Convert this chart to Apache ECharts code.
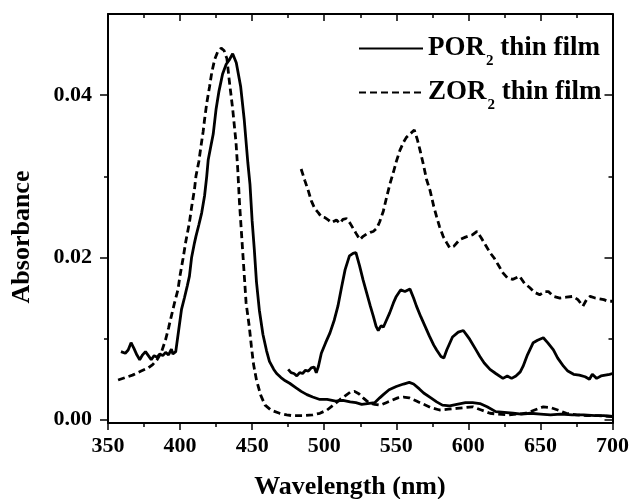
<!DOCTYPE html>
<html>
<head>
<meta charset="utf-8">
<script src="https://cdn.jsdelivr.net/npm/echarts@6/dist/echarts.min.js"></script>
<style>
  html, body { margin: 0; padding: 0; background: #fff; }
  #chart { width: 632px; height: 499px; }
</style>
</head>
<body>
<div id="chart"></div>
<script>
// 波长 (nm) 与吸光度
const porMain = [
  [359, 0.0084], [362, 0.0082], [364, 0.0086], [366, 0.0095], [368, 0.0088], [370, 0.0080],
  [372, 0.0074], [374, 0.0080], [376, 0.0084], [378, 0.0079], [380, 0.0074], [382, 0.0079],
  [384, 0.0077], [386, 0.0081], [388, 0.0079], [390, 0.0083], [392, 0.0080], [394, 0.0087],
  [395, 0.0081], [397, 0.0084], [399, 0.0110], [401, 0.0136], [403, 0.0150], [405, 0.0165],
  [406.5, 0.0177], [408, 0.0200], [410, 0.0218], [411, 0.0226], [413, 0.0240], [415, 0.0255],
  [417, 0.0276], [418.5, 0.0300], [419.5, 0.0320], [421, 0.0334], [423, 0.0352], [425, 0.0383],
  [427, 0.0405], [429.5, 0.0426], [432, 0.0438], [434, 0.0443], [436.5, 0.0451], [439, 0.0440],
  [442, 0.0411], [444.5, 0.0370], [447, 0.0317], [448.5, 0.0290], [450, 0.0245], [451.5, 0.0210],
  [453, 0.0170], [455, 0.0135], [457.5, 0.0105], [460, 0.0085], [462, 0.0072], [465, 0.0062],
  [467, 0.0057], [470, 0.0052], [473, 0.0048], [476, 0.0045], [480, 0.0040], [484, 0.0035],
  [488, 0.0031], [492, 0.0028], [497, 0.0025], [502, 0.0025], [508, 0.0023], [513, 0.0024],
  [518, 0.0022], [522, 0.0021], [526, 0.0019], [530, 0.0020], [535, 0.0021], [538.5, 0.0027],
  [541, 0.0031], [545, 0.0037], [550, 0.0041], [555, 0.0044], [559, 0.0046], [562, 0.0044],
  [566, 0.0038], [569, 0.0033], [574, 0.0027], [578, 0.0022], [582, 0.0018], [587, 0.0017],
  [592, 0.0019], [598, 0.0021], [603, 0.0021], [608, 0.0020], [613, 0.0016], [619, 0.0010],
  [625, 0.0009], [631, 0.0008], [637, 0.0007], [643, 0.0008], [650, 0.0007], [657, 0.0006],
  [664, 0.0007], [672, 0.0006], [680, 0.0006], [688, 0.0005], [694, 0.0005], [700, 0.0004]
];
const porQ = [
  [475, 0.0062], [477, 0.0058], [479, 0.0057], [481, 0.0054], [483, 0.0058], [485, 0.0057],
  [487, 0.0061], [489, 0.0060], [491, 0.0064], [493, 0.0065], [494.5, 0.0058], [496, 0.0066],
  [498, 0.0082], [501, 0.0095], [504, 0.0107], [507, 0.0123], [509.5, 0.0140], [512, 0.0163],
  [514.5, 0.0185], [517.5, 0.0202], [520, 0.0205], [522, 0.0206], [524.5, 0.0190], [527, 0.0172],
  [529.5, 0.0156], [532, 0.0140], [534, 0.0128], [536, 0.0115], [537.5, 0.0110], [539.5, 0.0116],
  [541, 0.0114], [543, 0.0122], [545.5, 0.0132], [548, 0.0144], [550, 0.0152], [553, 0.0160],
  [556, 0.0158], [559.5, 0.0161], [562, 0.0150], [564, 0.0140], [567, 0.0127], [570, 0.0115],
  [573, 0.0103], [576, 0.0092], [578, 0.0086], [581, 0.0078], [583, 0.0076], [585, 0.0086],
  [589, 0.0102], [593, 0.0108], [596.5, 0.0110], [599, 0.0104], [601, 0.0099], [605, 0.0087],
  [608, 0.0078], [611, 0.0070], [615, 0.0062], [619, 0.0057], [624, 0.0051], [627, 0.0054],
  [630, 0.0051], [633, 0.0054], [636, 0.0059], [638, 0.0066], [641, 0.0080], [645, 0.0095],
  [648, 0.0098], [652, 0.0101], [655, 0.0095], [659, 0.0086], [662, 0.0076], [666, 0.0066],
  [669, 0.0060], [673, 0.0056], [677, 0.0055], [681, 0.0053], [684, 0.0050], [686, 0.0056],
  [689, 0.0051], [692, 0.0054], [695, 0.0055], [698, 0.0056], [700, 0.0057]
];
const zorMain = [
  [357, 0.0049], [362, 0.0052], [367, 0.0055], [373, 0.0060], [378, 0.0064], [381, 0.0068],
  [384, 0.0074], [387, 0.0083], [390, 0.0099], [392, 0.0113], [394, 0.0128], [396, 0.0143],
  [398.5, 0.0160], [400, 0.0178], [402, 0.0198], [404, 0.0220], [406.5, 0.0243], [408, 0.0262],
  [410, 0.0284], [411, 0.0300], [413, 0.0318], [414.5, 0.0337], [416, 0.0355], [417, 0.0370],
  [418.5, 0.0390], [420.5, 0.0411], [422, 0.0428], [424, 0.0444], [426, 0.0453], [428.5, 0.0458],
  [430.5, 0.0455], [432.5, 0.0445], [434, 0.0420], [436.5, 0.0383], [438.8, 0.0342], [440, 0.0309],
  [441.2, 0.0268], [443.5, 0.0206], [445.8, 0.0144], [448, 0.0115], [449.5, 0.0090], [451, 0.0068],
  [453, 0.0049], [456, 0.0030], [459, 0.0018], [463, 0.0012], [469, 0.0008], [474, 0.0006],
  [478, 0.0005], [485, 0.0005], [492, 0.0006], [497, 0.0008], [502, 0.0012], [507, 0.0019],
  [511, 0.0025], [515, 0.0030], [518, 0.0034], [521, 0.0035], [524, 0.0032], [527, 0.0027],
  [531, 0.0021], [535, 0.0019], [539, 0.0018], [543, 0.0021], [547, 0.0024], [551, 0.0027],
  [555, 0.0028], [559, 0.0027], [564, 0.0023], [569, 0.0019], [574, 0.0015], [580, 0.0012],
  [586, 0.0013], [592, 0.0014], [598, 0.0015], [603, 0.0016], [609, 0.0012], [615, 0.0008],
  [620, 0.0007], [627, 0.0006], [634, 0.0007], [640, 0.0008], [646, 0.0012], [652, 0.0016],
  [657, 0.0015], [662, 0.0012], [668, 0.0008], [675, 0.0006], [682, 0.0005], [690, 0.0005],
  [700, 0.0004]
];
const zorQ = [
  [484, 0.0309], [486.5, 0.0295], [489, 0.0282], [491, 0.0270], [493.5, 0.0260], [496, 0.0255],
  [498, 0.0250], [500.5, 0.0249], [503, 0.0246], [505, 0.0243], [508.5, 0.0246], [511, 0.0242],
  [513, 0.0247], [515.5, 0.0248], [518, 0.0242], [520, 0.0236], [522, 0.0230], [524.7, 0.0222],
  [527, 0.0226], [529.5, 0.0229], [532, 0.0231], [534, 0.0232], [536.5, 0.0236], [538.5, 0.0244],
  [541, 0.0257], [543, 0.0272], [545.5, 0.0290], [548, 0.0305], [550, 0.0318], [552.5, 0.0332],
  [555, 0.0342], [557, 0.0348], [559.5, 0.0352], [562.5, 0.0357], [564.5, 0.0346], [566.5, 0.0332],
  [569, 0.0313], [571, 0.0296], [573.5, 0.0282], [576, 0.0263], [578, 0.0250], [580, 0.0238],
  [582.5, 0.0226], [585, 0.0218], [587, 0.0212], [590, 0.0214], [594, 0.0222], [598, 0.0225],
  [603, 0.0228], [606, 0.0232], [609, 0.0224], [612, 0.0215], [615, 0.0206], [618, 0.0199],
  [621, 0.0190], [624, 0.0181], [627, 0.0175], [631, 0.0173], [635.5, 0.0177], [639, 0.0168],
  [642.5, 0.0163], [646, 0.0157], [649.5, 0.0154], [653, 0.0158], [655.5, 0.0158], [659, 0.0152],
  [663.5, 0.0150], [668, 0.0151], [672.5, 0.0152], [676, 0.0148], [679.5, 0.0140], [682, 0.0148],
  [684.5, 0.0152], [688, 0.0150], [691, 0.0149], [694, 0.0148], [697, 0.0146], [700, 0.0146]
];
// 刻度
const yMajorTicks = [0, 0.02, 0.04];
const yMinorTicks = [0.01, 0.03];
const seriesNames = ["POR2 thin film", "ZOR2 thin film"];

const FONT = "'Liberation Serif', 'Times New Roman', serif";
const chart = echarts.init(document.getElementById("chart"));

const axisLine = { show: true, onZero: false, lineStyle: { color: "#000", width: 2 } };
const tickStyle = { color: "#000", width: 1.5 };

function yAxisOf(position, ticks, len, showLine, showLabel) {
  return {
    type: "value",
    position: position,
    min: -0.0004,
    max: 0.05,
    axisLine: showLine ? axisLine : { show: false },
    axisTick: {
      show: true,
      inside: position === "right",
      length: len,
      customValues: ticks,
      lineStyle: tickStyle
    },
    axisLabel: showLabel
      ? {
          show: true,
          customValues: yMajorTicks,
          formatter: v => v.toFixed(2),
          margin: 16,
          fontSize: 22,
          fontWeight: "bold",
          fontFamily: FONT,
          color: "#000"
        }
      : { show: false },
    splitLine: { show: false }
  };
}

function xAxisOf(position) {
  const top = position === "top";
  return {
    type: "value",
    position: position,
    min: 350,
    max: 700,
    interval: 50,
    axisLine: axisLine,
    axisTick: { show: true, inside: top, length: 7, lineStyle: tickStyle },
    minorTick: { show: true, splitNumber: 2, length: 4, lineStyle: tickStyle },
    axisLabel: top
      ? { show: false }
      : { show: true, margin: 12, fontSize: 22, fontWeight: "bold", fontFamily: FONT, color: "#000" },
    splitLine: { show: false },
    minorSplitLine: { show: false }
  };
}

function line(name, data, dashed) {
  return {
    name: name,
    type: "line",
    data: data,
    symbol: "none",
    showSymbol: false,
    xAxisIndex: 0,
    yAxisIndex: 0,
    lineStyle: { color: "#000", width: 2.8, type: dashed ? [7, 4] : "solid" },
    itemStyle: { color: "#000" },
    z: 3
  };
}

chart.setOption({
  animation: false,
  backgroundColor: "#fff",
  grid: { left: 108, right: 19, top: 14, bottom: 76, containLabel: false },
  xAxis: [xAxisOf("bottom"), xAxisOf("top")],
  yAxis: [
    yAxisOf("left", yMajorTicks, 8, true, true),
    yAxisOf("left", yMinorTicks, 4, false, false),
    yAxisOf("right", yMajorTicks, 8, true, false),
    yAxisOf("right", yMinorTicks, 4, false, false)
  ],
  legend: {
    data: seriesNames,
    orient: "vertical",
    left: 358,
    top: 28,
    padding: 0,
    itemGap: 3,
    itemWidth: 64,
    itemHeight: 14,
    itemStyle: { opacity: 0, borderWidth: 0 },
    formatter: name => name.replace(/^(POR|ZOR)2(.*)$/, "{b|$1}{s|2}{b|$2}"),
    textStyle: {
      rich: {
        b: { fontSize: 27, fontWeight: "bold", fontFamily: FONT, color: "#000", lineHeight: 30 },
        s: { fontSize: 15, fontWeight: "bold", fontFamily: FONT, color: "#000", lineHeight: 15, padding: [26, 0, 0, 1] }
      }
    }
  },
  graphic: [
    {
      type: "text",
      x: 22,
      y: 237,
      rotation: Math.PI / 2,
      style: {
        text: "Absorbance",
        font: "bold 26px " + FONT,
        fill: "#000",
        align: "center",
        verticalAlign: "middle"
      }
    },
    {
      type: "text",
      x: 350,
      y: 487,
      style: {
        text: "Wavelength (nm)",
        font: "bold 26px " + FONT,
        fill: "#000",
        align: "center",
        verticalAlign: "middle"
      }
    }
  ],
  series: [
    line(seriesNames[0], porMain, false),
    line(seriesNames[0], porQ, false),
    line(seriesNames[1], zorMain, true),
    line(seriesNames[1], zorQ, true)
  ]
});
</script>
</body>
</html>
